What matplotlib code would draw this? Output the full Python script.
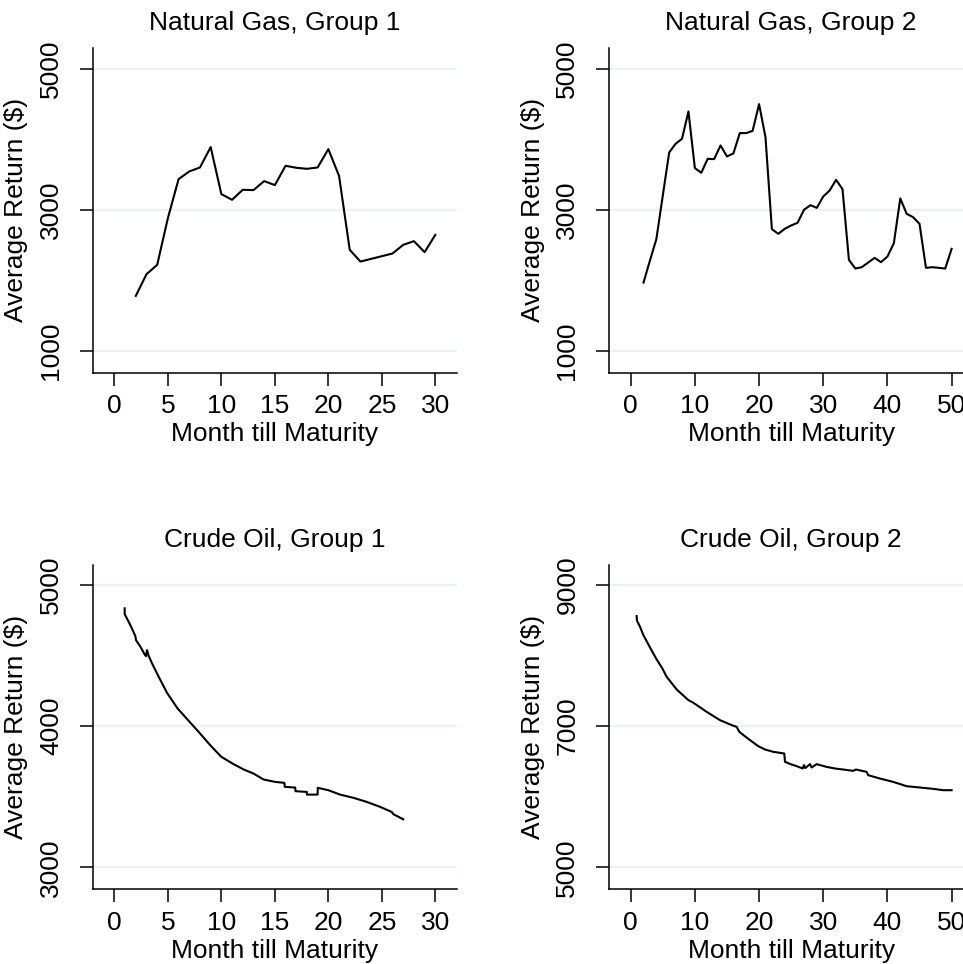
import matplotlib
matplotlib.use("Agg")
import matplotlib.pyplot as plt

plt.rcParams['font.family'] = ['Liberation Sans', 'DejaVu Sans']

# ---- Data ----
ng1_month = [2, 3, 4, 5, 6, 7, 8, 9, 10, 11, 12, 13, 14, 15, 16, 17, 18, 19, 20,
             21, 22, 23, 24, 25, 26, 27, 28, 29, 30]
ng1_value = [1780, 2088, 2220, 2882, 3435, 3544, 3600, 3889, 3222, 3142, 3284, 3279,
             3407, 3350, 3624, 3596, 3581, 3600, 3860, 3482, 2433, 2267, 2305, 2343,
             2381, 2504, 2556, 2400, 2645]

ng2_month = list(range(2, 51))
ng2_value = [1969, 2281, 2584, 3200, 3813, 3936, 4007, 4394, 3591, 3525, 3723, 3718,
             3912, 3756, 3799, 4087, 4087, 4120, 4498, 4030, 2726, 2660, 2731, 2778,
             2816, 3000, 3066, 3028, 3189, 3274, 3425, 3293, 2291, 2168, 2187, 2253,
             2319, 2258, 2338, 2527, 3161, 2943, 2896, 2801, 2178, 2187, 2178, 2168,
             2447]

co1_month = [0.96, 0.96, 1.49, 1.96, 2.02, 2.43, 2.83, 2.96, 3.05, 3.20, 3.52, 4.14,
             4.92, 5.91, 6.94, 7.87, 8.96, 9.99, 11.14, 12.08, 13.01, 13.94, 15.03,
             15.90, 15.92, 16.90, 16.93, 17.99, 18.00, 19.00, 19.01, 20.00, 21.10,
             22.35, 23.60, 24.84, 25.93, 26.08, 27.00]
co1_value = [4835, 4794, 4716, 4638, 4610, 4563, 4508, 4496, 4539, 4499, 4445, 4350,
             4236, 4125, 4038, 3960, 3865, 3783, 3731, 3693, 3664, 3622, 3605,
             3598, 3570, 3565, 3539, 3534, 3515, 3515, 3563, 3546, 3515,
             3492, 3463, 3428, 3392, 3376, 3340]

co2_month = [0.93, 0.98, 1.45, 1.97, 3.00, 4.04, 4.93, 5.60, 7.16, 8.98, 9.76, 11.83,
             13.90, 15.99, 16.50, 16.92, 17.90, 18.94, 19.88, 20.92, 22.20, 23.93,
             24.04, 24.92, 25.85, 26.80, 27.00, 27.20, 27.93, 28.19, 28.97, 30.50,
             31.80, 33.12, 34.68, 35.10, 36.75, 37.00, 38.80, 40.90, 42.97, 45.06,
             47.14, 48.70, 50.00]
co2_value = [8560, 8494, 8409, 8291, 8116, 7946, 7818, 7700, 7520, 7369, 7331, 7203,
             7085, 7005, 6991, 6920, 6849, 6778, 6716, 6669, 6636, 6612,
             6494, 6461, 6433, 6400, 6447, 6405, 6461, 6414, 6461, 6423,
             6400, 6385, 6366, 6385, 6352, 6305, 6258, 6210, 6149, 6130,
             6111, 6092, 6092]

titles = ["Natural Gas, Group 1", "Natural Gas, Group 2",
          "Crude Oil, Group 1", "Crude Oil, Group 2"]
xticks_30 = [0, 5, 10, 15, 20, 25, 30]
xticks_50 = [0, 10, 20, 30, 40, 50]
yticks_ng = [1000, 3000, 5000]
yticks_co1 = [3000, 4000, 5000]
yticks_co2 = [5000, 7000, 9000]

# ---- Figure ----
W, H = 963, 964
fig = plt.figure(figsize=(W / 100, H / 100), dpi=100)

def rect(left, right, top, bottom):
    return [left / W, 1 - bottom / H, (right - left) / W, (bottom - top) / H]

panels = [
    (rect(93, 456.7, 48, 372.7), ng1_month, ng1_value, (-2, 32), xticks_30, (692, 5293), yticks_ng),
    (rect(609.3, 973, 48, 372.7), ng2_month, ng2_value, (-3.33, 53.33), xticks_50, (692, 5293), yticks_ng),
    (rect(93, 456.7, 565, 889), co1_month, co1_value, (-2, 32), xticks_30, (2846, 5142), yticks_co1),
    (rect(609.3, 973, 565, 889), co2_month, co2_value, (-3.33, 53.33), xticks_50, (4692, 9283), yticks_co2),
]

grid_color = "#eaf2f3"
fs = 19

for (pos, xs, ys, xl, xt, yl, yt), title in zip(panels, titles):
    ax = fig.add_axes(pos)
    ax.set_xlim(*xl)
    ax.set_ylim(*yl)
    for v in yt:
        ax.axhline(v, color=grid_color, lw=1.6, zorder=0)
    ax.plot(xs, ys, color="black", lw=1.5, zorder=3)
    ax.set_xticks(xt)
    ax.set_yticks(yt)
    ax.set_yticklabels([str(v) for v in yt], rotation=90, va="center")
    ax.tick_params(axis="both", direction="out", length=9.5, width=1.1,
                   labelsize=fs, color="black")
    ax.tick_params(axis="x", pad=6)
    ax.tick_params(axis="y", pad=12)
    for s in ["top", "right"]:
        ax.spines[s].set_visible(False)
    for s in ["left", "bottom"]:
        ax.spines[s].set_linewidth(1.1)
    ax.set_xlabel("Month till Maturity", fontsize=fs, labelpad=3)
    ax.set_ylabel("Average Return ($)", fontsize=fs)
    ax.yaxis.set_label_coords(-0.178, 0.5)
    ax.set_title(title, fontsize=fs, pad=13)

fig.savefig("out.png", dpi=100)
